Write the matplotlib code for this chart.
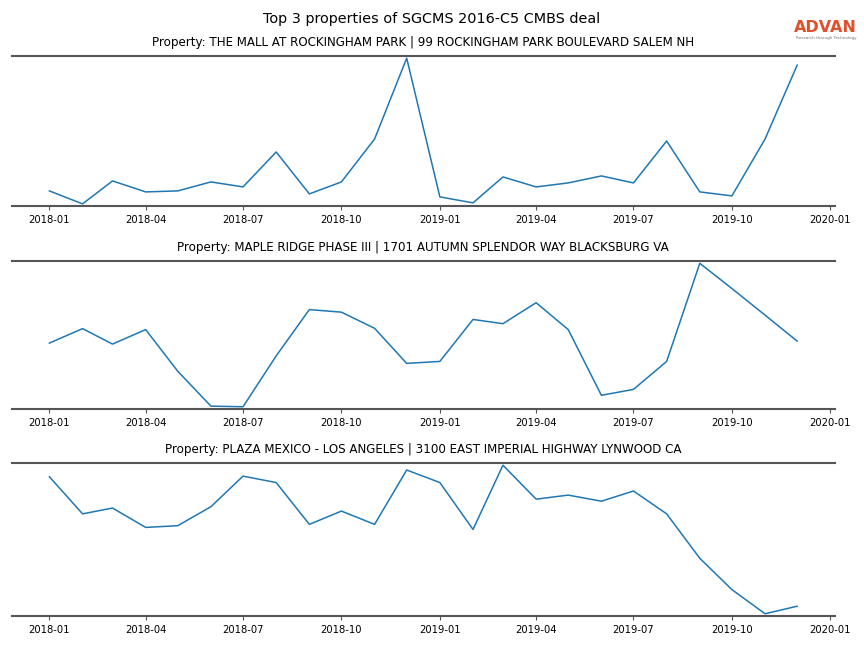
import numpy as np
import pandas as pd
from matplotlib import pyplot as plt
import matplotlib.dates as mdates

months = pd.date_range("2018-01-01", "2019-12-01", freq="MS")

titles = [
    "Property: THE MALL AT ROCKINGHAM PARK | 99 ROCKINGHAM PARK BOULEVARD SALEM NH",
    "Property: MAPLE RIDGE PHASE III | 1701 AUTUMN SPLENDOR WAY BLACKSBURG VA",
    "Property: PLAZA MEXICO - LOS ANGELES | 3100 EAST IMPERIAL HIGHWAY LYNWOOD CA",
]

# monthly visits (arbitrary units)
mall_visits = [14, 1, 24, 13, 14, 23, 18, 53, 11, 23, 66, 147,
               8, 2, 28, 18, 22, 29, 22, 64, 13, 9, 66, 140]
maple_visits = [65.3, 80, 64.3, 79, 36.7, 1.3, 0.7, 52.3, 99.3, 96.7, 80.3, 44.7,
                46.7, 89.3, 85, 106.3, 79, 12.3, 18.3, 46.7, 146.3, 120.7, 93.7, 67.3]
plaza_visits = [137.7, 101.3, 107, 88, 89.7, 108.3, 138.3, 132, 91, 104, 91, 144.3,
                132, 86, 149, 115.7, 119.7, 113.7, 123.7, 101.3, 57.7, 27, 3.3, 10.7]

series = [mall_visits, maple_visits, plaza_visits]

fig = plt.figure(figsize=(8.64, 6.48), dpi=100)
fig.suptitle("Top 3 properties of SGCMS 2016-C5 CMBS deal", fontsize=10.4, y=0.982)

# axes boxes: left, bottom, width, height
boxes = [
    [0.0139, 0.682, 0.952, 0.2316],
    [0.0139, 0.369, 0.952, 0.228],
    [0.0139, 0.0494, 0.952, 0.2361],
]

for box, title, vals in zip(boxes, titles, series):
    ax = fig.add_axes(box)
    ax.plot(months, vals, color="tab:blue", lw=1.1)
    ax.set_title(title, fontsize=8.6, pad=7.5)
    ax.margins(y=0.015)
    ax.xaxis.set_major_locator(mdates.MonthLocator(bymonth=[1, 4, 7, 10]))
    ax.xaxis.set_major_formatter(mdates.DateFormatter("%Y-%m"))
    ax.tick_params(axis="x", labelsize=7.2, length=3, color="#555555")
    ax.set_yticks([])
    for s in ["left", "right"]:
        ax.spines[s].set_visible(False)
    for s in ["top", "bottom"]:
        ax.spines[s].set_color("#555555")
        ax.spines[s].set_linewidth(1.5)

# logo
fig.text(0.992, 0.957, "ADVAN", color="#e0502a", fontsize=11.5, ha="right",
         va="center", fontweight="bold")
fig.text(0.992, 0.941, "Research through Technology", color="#777777",
         fontsize=3, ha="right", va="center")

fig.savefig("out.png", dpi=100)
